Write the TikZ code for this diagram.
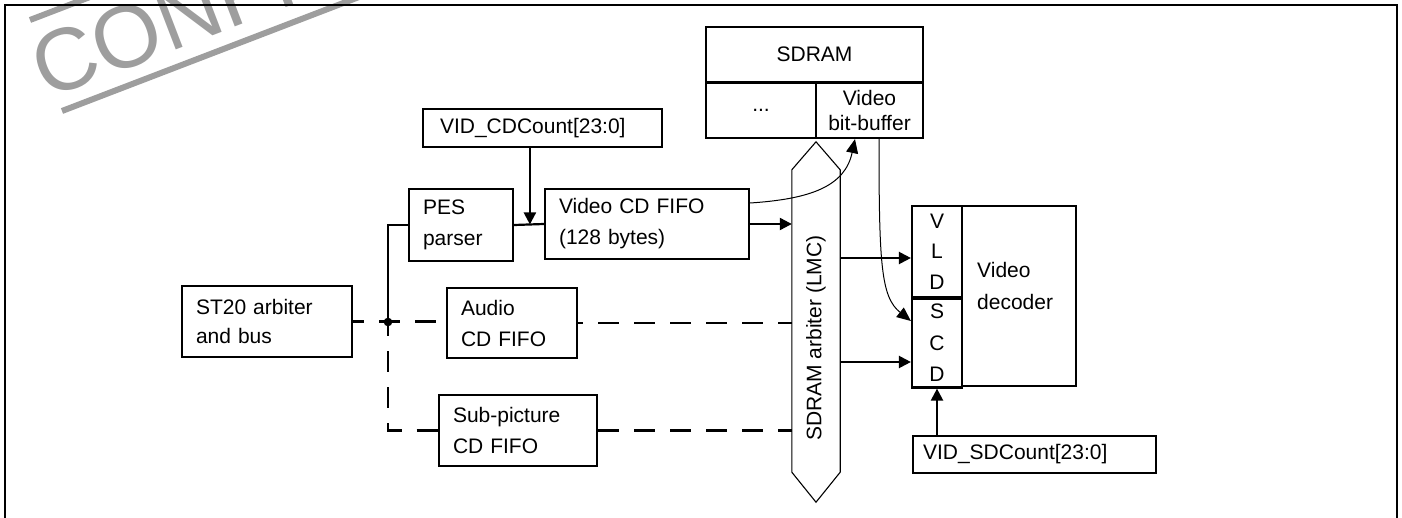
\documentclass[tikz,border=0pt]{standalone}
\usepackage{fontspec}
\setmainfont{Liberation Sans}
\usetikzlibrary{arrows.meta,calc}
\definecolor{wmgray}{RGB}{158,158,158}
\begin{document}
\begin{tikzpicture}[x=1pt,y=-1pt,
  box/.style={draw, line width=2.2pt, inner sep=0pt, font=\fontsize{21}{31}\selectfont},
  lbox/.style={box, align=left},
  conn/.style={line width=2.2pt},
  arr/.style={line width=2.2pt, -{Triangle[length=12pt,width=12pt]}},
  thinarr/.style={line width=1pt, -{Triangle[length=14pt,width=12pt]}},
  dashln/.style={line width=2.2pt, dash pattern=on 21pt off 15pt},
  txt/.style={inner sep=0pt, font=\fontsize{21}{31}\selectfont}
]
\useasboundingbox (0,0) rectangle (1402,518);
\begin{scope}
\clip (0,0) rectangle (1402,518);
% watermark
\node[rotate=21, anchor=base west, inner sep=0pt, text=wmgray,
      font=\fontsize{88}{88}\selectfont] (wm) at (46,100) {CONFIDENTIAL};
\draw[wmgray, line width=6pt] (62,111) -- ++(-21:700);
\draw[wmgray, line width=6pt] (30,20) -- ++(-21:700);
% frame
\draw[line width=2.5pt] (5,530) -- (5,5) -- (1397,5) -- (1397,530);
\end{scope}

% SDRAM
\node[box, minimum width=217pt, minimum height=55.5pt] (sdram) at (814.5,54.75) {SDRAM};
\node[box, minimum width=110pt, minimum height=55.5pt] (dots) at (761,110.25) {...};
\node[box, minimum width=107pt, minimum height=55.5pt, align=center,
      font=\fontsize{21}{25}\selectfont] (vb) at (869.5,110.25) {Video\\bit-buffer};

% left side boxes
\node[lbox, minimum width=239pt, minimum height=38pt, text width=205pt, inner xsep=17pt] (vcdc) at (542.5,128) {VID\_CDCount[23:0]};
\node[lbox, minimum width=104pt, minimum height=72pt, text width=76pt, inner xsep=14pt] (pes) at (461,225) {PES\\parser};
\node[lbox, minimum width=204pt, minimum height=70pt, text width=176pt, inner xsep=14pt] (vcd) at (647,224) {Video CD FIFO\\(128 bytes)};
\node[lbox, minimum width=170pt, minimum height=71pt, text width=142pt, inner xsep=14pt,
      font=\fontsize{21}{29}\selectfont] (st20) at (267,321.5) {ST20 arbiter\\and bus};
\node[lbox, minimum width=130pt, minimum height=70pt, text width=102pt, inner xsep=14pt] (audio) at (512,323) {Audio\\CD FIFO};
\node[lbox, minimum width=158pt, minimum height=71pt, text width=130pt, inner xsep=14pt] (sub) at (518,430.5) {Sub-picture\\CD FIFO};

% arbiter
\node[minimum width=48pt, minimum height=302pt, inner sep=0pt] (arb) at (816,321) {};
\draw[line width=1.1pt] (arb.north west) -- ($(arb.north)+(0,-28)$) -- (arb.north east)
  -- (arb.south east) -- ($(arb.south)+(0,30)$) -- (arb.south west) -- cycle;
\node[txt, rotate=90] (arbt) at (816,338) {SDRAM arbiter (LMC)};

% video decoder
\node[box, minimum width=114pt, minimum height=180pt] (vdec) at (1019,296) {};
\node[box, minimum width=50pt, minimum height=91pt, align=center,
      font=\fontsize{21}{30.5}\selectfont] (vld) at (937,251.5) {V\\L\\D};
\node[box, minimum width=50pt, minimum height=89pt, align=center,
      font=\fontsize{21}{31.5}\selectfont] (scd) at (937,343) {S\\C\\D};
\node[txt, anchor=west, align=left, font=\fontsize{21}{32}\selectfont] (vdt) at (977,286) {Video\\decoder};
\node[lbox, minimum width=243pt, minimum height=37pt, text width=223pt, inner xsep=10pt] (vsdc) at (1034.5,454.5) {VID\_SDCount[23:0]};

% connectors
\coordinate (m) at ($(pes.east)!0.53!(vcd.west)$);
\draw[conn] (pes.east) -- (vcd.west);
\draw[arr] (vcdc.south -| m) -- (m);
\draw[arr] (vcd.east) -- (vcd.east -| arb.west);
\draw[thinarr] ([yshift=21pt]vcd.east) .. controls +(61,-4) and +(-10,47) .. ([xshift=-14.5pt]vb.south);
\draw[thinarr] ([xshift=9.5pt]vb.south) .. controls +(0,125) and +(-30,-24) .. ([yshift=22pt]scd.west);
\coordinate (vin) at ([yshift=-6.5pt]vld.west);
\coordinate (sin) at ([yshift=-19pt]scd.west);
\draw[arr] (arb.east |- vin) -- (vin);
\draw[arr] (arb.east |- sin) -- (sin);
\draw[arr] (vsdc.north -| scd.south) -- (scd.south);

\coordinate (j) at (388,322);
\draw[conn] (j) |- (pes.west);
\fill (j) circle (4.3pt);
\draw[dashln, dash phase=10pt] (st20.east) -- (st20.east -| audio.west);
\draw[dashln, dash phase=16pt] (audio.east) -- (audio.east -| arb.west);
\draw[dashln, dash phase=7pt] (j) |- (sub.west);
\draw[dashln] (sub.east) -- (sub.east -| arb.west);
\end{tikzpicture}
\end{document}
